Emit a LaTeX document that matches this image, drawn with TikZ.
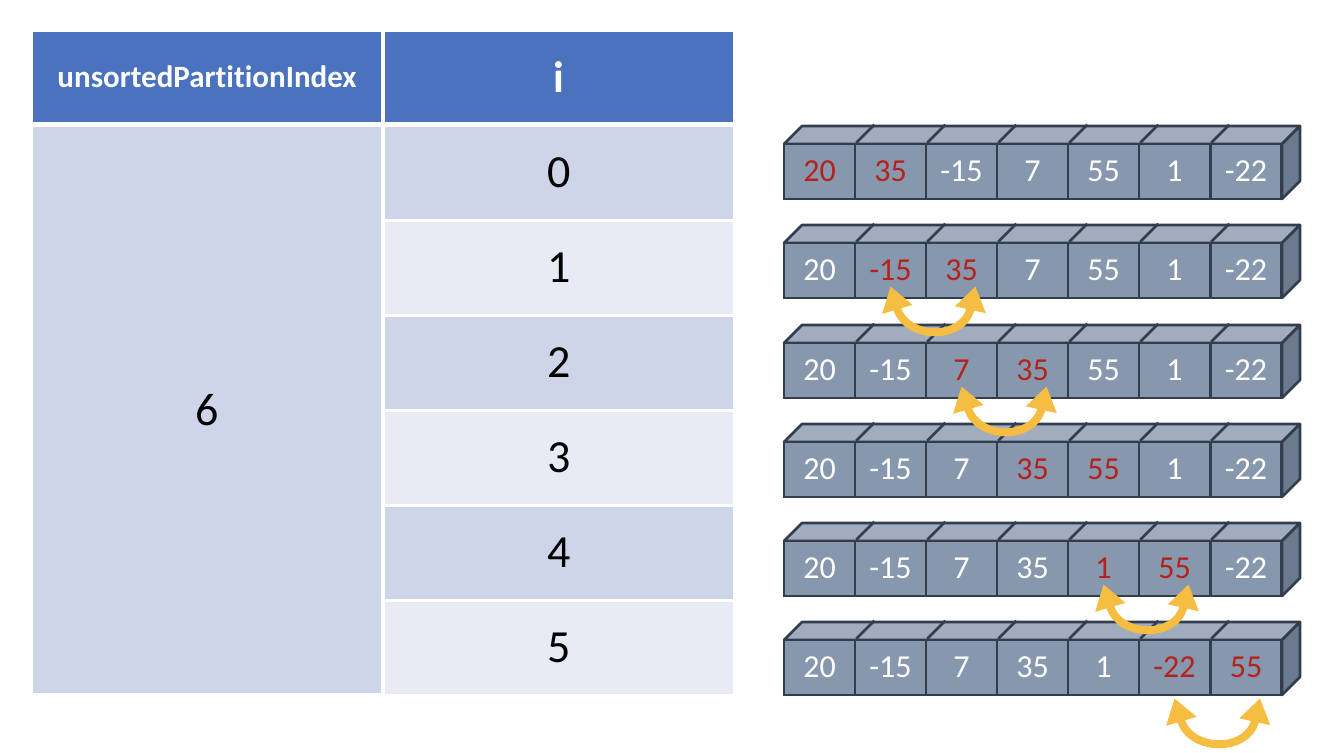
\documentclass[tikz,border=0pt]{standalone}
\usepackage{fontspec}
\setmainfont{Carlito}[Ligatures={NoCommon}]
\usetikzlibrary{arrows.meta,calc}

\definecolor{hdrblue}{HTML}{4A72BE}
\definecolor{rowdark}{HTML}{CFD5E8}
\definecolor{rowlight}{HTML}{E8EBF4}
\definecolor{cubefront}{HTML}{8797AE}
\definecolor{cubetop}{HTML}{A1ACBE}
\definecolor{cubeside}{HTML}{6C7A8E}
\definecolor{cubeedge}{HTML}{323E4E}
\definecolor{swapred}{HTML}{B3221B}
\definecolor{arrowgold}{HTML}{F5BD41}

\tikzset{
	hdr/.style={fill=hdrblue, text=white, font=\bfseries\fontsize{15.5}{18}\selectfont, minimum width=174pt, minimum height=45pt, inner sep=0},
	tcell/.style={minimum width=174pt, minimum height=46pt, inner sep=0, font=\fontsize{23}{27}\selectfont},
	cell/.style={draw=cubeedge, fill=cubefront, line width=1.3pt, text=white, minimum width=35.5pt, minimum height=27.5pt, inner sep=0, font=\fontsize{16}{19}\selectfont},
	cubeline/.style={draw=cubeedge, line width=1.3pt, line join=round},
	swaparrow/.style={draw=arrowgold, line width=4pt, {Triangle[width=15pt,length=12pt]}-{Triangle[width=15pt,length=12pt]}}
}

\newcommand{\moved}[1]{\textcolor{swapred}{#1}}

% #1 row, #2 y of front top, #3-#9 values
\newcommand{\cuberow}[9]{
	\draw[cubeline, fill=cubetop] (784,#2) -- (802,#2+18) -- (1300,#2+18) -- (1282,#2) -- cycle;
	\draw[cubeline, fill=cubeside] (1282,#2) -- (1300,#2+18) -- (1300,#2-37) -- (1282,#2-55) -- cycle;
	\node[cell] (c#1-1) at (819.5,#2-27.5) {#3};
	\node[cell] (c#1-2) at (890.5,#2-27.5) {#4};
	\node[cell] (c#1-3) at (961.5,#2-27.5) {#5};
	\node[cell] (c#1-4) at (1032.5,#2-27.5) {#6};
	\node[cell] (c#1-5) at (1103.5,#2-27.5) {#7};
	\node[cell] (c#1-6) at (1174.5,#2-27.5) {#8};
	\node[cell] (c#1-7) at (1246,#2-27.5) {#9};
	\draw[cubeline] (c#1-1.north east) -- ++(18,18);
	\draw[cubeline] (c#1-2.north east) -- ++(18,18);
	\draw[cubeline] (c#1-3.north east) -- ++(18,18);
	\draw[cubeline] (c#1-4.north east) -- ++(18,18);
	\draw[cubeline] (c#1-5.north east) -- ++(18,18);
	\draw[cubeline] (c#1-6.north east) -- ++(18,18);
}

% #1 from cell, #2 to cell, #3 lift of the tips
\newcommand{\swapmark}[3]{
	\draw[swaparrow] ($(#1.south)+(0,#3)$) .. controls +(16,-54) and +(-12,-54) .. ($(#2.south)+(14,#3)$);
}

\begin{document}
\begin{tikzpicture}[x=0.5pt, y=0.5pt]
	\useasboundingbox (0,0) rectangle (1336,-752);

	% table
	\node[hdr] (hIdx) at (207,-77) {unsortedPartitionIndex};
	\node[hdr, font=\bfseries\fontsize{22}{26}\selectfont] (hI) at (559,-77) {i};
	\node[tcell, fill=rowdark, minimum height=283pt] (vIdx) at (207,-410) {6};
	\node[tcell, fill=rowdark] (i0) at (559,-173) {0};
	\node[tcell, fill=rowlight] (i1) at (559,-268) {1};
	\node[tcell, fill=rowdark] (i2) at (559,-363) {2};
	\node[tcell, fill=rowlight] (i3) at (559,-458) {3};
	\node[tcell, fill=rowdark] (i4) at (559,-553) {4};
	\node[tcell, fill=rowlight] (i5) at (559,-648) {5};

	% arrays
	\cuberow{1}{-144}{\moved{20}}{\moved{35}}{-15}{7}{55}{1}{-22}
	\cuberow{2}{-243}{20}{\moved{-15}}{\moved{35}}{7}{55}{1}{-22}
	\cuberow{3}{-343}{20}{-15}{\moved{7}}{\moved{35}}{55}{1}{-22}
	\cuberow{4}{-442}{20}{-15}{7}{\moved{35}}{\moved{55}}{1}{-22}
	\cuberow{5}{-541}{20}{-15}{7}{35}{\moved{1}}{\moved{55}}{-22}
	\cuberow{6}{-640}{20}{-15}{7}{35}{1}{\moved{-22}}{\moved{55}}

	\swapmark{c2-2}{c2-3}{13}
	\swapmark{c3-3}{c3-4}{13}
	\swapmark{c5-5}{c5-6}{13}
	\swapmark{c6-6}{c6-7}{-2}
\end{tikzpicture}
\end{document}
